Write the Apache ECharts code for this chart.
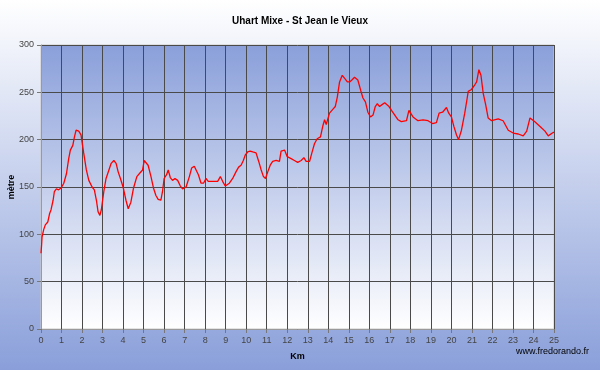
<!DOCTYPE html>
<html>
<head>
<meta charset="utf-8">
<script src="https://cdn.jsdelivr.net/npm/echarts@6/dist/echarts.min.js"></script>
<style>
  html, body { margin: 0; padding: 0; }
  #main { width: 600px; height: 370px; }
</style>
</head>
<body>
<div id="main"></div>
<script>
// profil altimétrique
const titre = 'Uhart Mixe - St Jean le Vieux';
const kms = [0, 0.03, 0.05, 0.13, 0.21, 0.33, 0.42, 0.49, 0.59, 0.65, 0.75, 0.86, 0.98, 1.11, 1.24, 1.35, 1.43, 1.55, 1.63, 1.71,
  1.84, 1.95, 2.08, 2.21, 2.33, 2.49, 2.6, 2.7, 2.78, 2.87, 2.94, 3.06, 3.17, 3.31, 3.42, 3.55, 3.66, 3.76, 3.87, 4.0,
  4.05, 4.14, 4.25, 4.38, 4.51, 4.67, 4.83, 4.95, 5.03, 5.11, 5.22, 5.36, 5.48, 5.6, 5.71, 5.84, 5.92, 6.0, 6.12, 6.2,
  6.3, 6.41, 6.53, 6.66, 6.79, 6.9, 7.07, 7.23, 7.34, 7.47, 7.55, 7.67, 7.8, 7.92, 8.04, 8.15, 8.2, 8.45, 8.61, 8.74,
  8.85, 8.98, 9.18, 9.34, 9.5, 9.63, 9.75, 9.86, 9.96, 10.07, 10.19, 10.32, 10.48, 10.61, 10.73, 10.84, 10.94, 11.05, 11.17, 11.29,
  11.46, 11.62, 11.7, 11.87, 12.0, 12.19, 12.35, 12.51, 12.68, 12.81, 12.92, 13.09, 13.2, 13.33, 13.46, 13.62, 13.74, 13.82, 13.9, 14.06,
  14.22, 14.34, 14.44, 14.55, 14.68, 14.79, 14.93, 15.04, 15.15, 15.28, 15.44, 15.58, 15.69, 15.81, 15.93, 16.06, 16.18, 16.29, 16.39, 16.5,
  16.62, 16.75, 16.83, 16.96, 17.08, 17.24, 17.4, 17.56, 17.81, 17.93, 18.13, 18.37, 18.62, 18.86, 19.08, 19.27, 19.4, 19.57, 19.76, 19.87,
  20.0, 20.12, 20.25, 20.35, 20.49, 20.65, 20.77, 20.82, 20.98, 21.14, 21.23, 21.34, 21.44, 21.55, 21.67, 21.79, 21.96, 22.28, 22.52, 22.77,
  23.01, 23.26, 23.5, 23.67, 23.83, 23.91, 24.07, 24.32, 24.56, 24.72, 24.92, 25.0];
const altitudes = [80, 89, 97, 105, 110, 113, 122, 126, 136, 145, 148, 147, 149, 154, 164, 180, 189, 194, 203, 210,
  209, 205, 186, 168, 157, 150, 147, 136, 124, 120, 126, 145, 159, 168, 175, 178, 175, 166, 159, 150,
  145, 136, 127, 134, 149, 161, 165, 168, 178, 179, 173, 161, 149, 141, 137, 136, 145, 159, 163, 168,
  160, 157, 159, 157, 151, 148, 150, 161, 170, 172, 170, 163, 154, 154, 159, 156, 156, 156, 156, 161,
  156, 151, 154, 159, 166, 171, 173, 178, 184, 187, 188, 187, 186, 177, 168, 161, 159, 166, 173, 177,
  178, 177, 188, 189, 182, 180, 178, 176, 178, 181, 177, 177, 186, 196, 201, 203, 215, 221, 216, 228,
  232, 235, 245, 261, 268, 265, 261, 261, 263, 266, 263, 252, 244, 240, 229, 224, 226, 235, 238, 235,
  237, 239, 239, 235, 231, 226, 221, 219, 220, 231, 224, 220, 221, 220, 217, 218, 228, 229, 234, 228,
  224, 214, 205, 200, 210, 228, 244, 251, 253, 258, 261, 274, 268, 249, 237, 223, 220, 222, 220, 210,
  207, 206, 204, 209, 223, 224, 219, 214, 209, 204, 207, 208];

const profil = kms.map((k, i) => [k, altitudes[i]]);

const chart = echarts.init(document.getElementById('main'));
const bleu = '#8a9fda';

chart.setOption({
  animation: false,
  backgroundColor: new echarts.graphic.LinearGradient(0, 0, 0, 1, [
    { offset: 0, color: '#ffffff' },
    { offset: 1, color: bleu }
  ]),
  title: {
    text: titre,
    left: 'center',
    top: 11,
    textStyle: { fontFamily: 'Liberation Sans', fontSize: 10, fontWeight: 'bold', color: '#000' }
  },
  graphic: [{
    type: 'text',
    right: 11,
    top: 347,
    style: { text: 'www.fredorando.fr', font: '9px "Liberation Sans"', fill: '#000' }
  }],
  grid: {
    left: 41, right: 46, top: 45, bottom: 41,
    outerBoundsMode: 'none',
    containLabel: false,
    show: true,
    borderColor: '#c8c8c8',
    borderWidth: 1,
    backgroundColor: new echarts.graphic.LinearGradient(0, 0, 0, 1, [
      { offset: 0, color: bleu },
      { offset: 1, color: '#ffffff' }
    ])
  },
  xAxis: {
    type: 'value',
    min: 0, max: 25, interval: 1,
    name: 'Km',
    nameLocation: 'middle',
    nameGap: 23,
    nameMoveOverlap: false,
    nameTextStyle: { fontFamily: 'Liberation Sans', fontSize: 9, fontWeight: 'bold', color: '#000' },
    axisLine: { lineStyle: { color: '#9a9a9a' } },
    axisTick: { show: true, length: 4, lineStyle: { color: '#777' } },
    axisLabel: { margin: 7, fontFamily: 'Liberation Sans', fontSize: 9, color: '#444' },
    splitLine: { show: true, lineStyle: { color: '#4a4a4a', width: 1 } }
  },
  yAxis: {
    type: 'value',
    min: 0, max: 300, interval: 50,
    name: 'mètre',
    nameLocation: 'middle',
    nameGap: 25,
    nameMoveOverlap: false,
    nameTextStyle: { fontFamily: 'Liberation Sans', fontSize: 9, fontWeight: 'bold', color: '#000' },
    axisLine: { show: true, lineStyle: { color: '#9a9a9a' } },
    axisTick: { show: true, length: 4, lineStyle: { color: '#777' } },
    axisLabel: { margin: 7, fontFamily: 'Liberation Sans', fontSize: 9, color: '#444' },
    splitLine: { show: true, lineStyle: { color: '#4a4a4a', width: 1 } }
  },
  series: [{
    type: 'line',
    data: profil,
    showSymbol: false,
    lineStyle: { color: '#ff0000', width: 1.3 },
    z: 5
  }]
});
</script>
</body>
</html>
